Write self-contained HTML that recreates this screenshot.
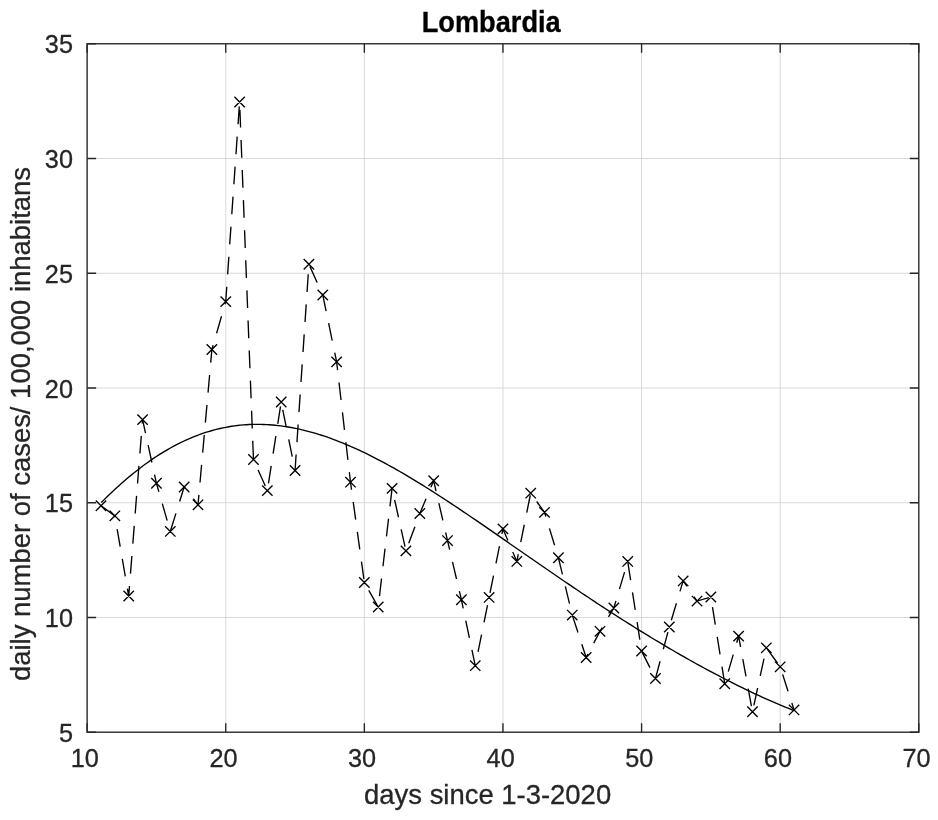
<!DOCTYPE html>
<html><head><meta charset="utf-8"><title>Lombardia</title>
<style>html,body{margin:0;padding:0;background:#fff;overflow:hidden}svg{display:block;will-change:transform}</style>
</head><body>
<svg width="938" height="820" viewBox="0 0 938 820">
<rect width="938" height="820" fill="#fff"/>
<path d="M225.74 43.77V732.20M364.35 43.77V732.20M502.96 43.77V732.20M641.58 43.77V732.20M780.19 43.77V732.20M87.13 617.46H918.80M87.13 502.72H918.80M87.13 387.99H918.80M87.13 273.25H918.80M87.13 158.51H918.80" stroke="#d9d9d9" stroke-width="1" fill="none"/>
<polyline points="101.30,502.53 104.20,499.63 107.10,496.78 109.99,493.99 112.89,491.24 115.79,488.54 118.69,485.90 121.59,483.31 124.48,480.77 127.38,478.29 130.28,475.86 133.18,473.49 136.07,471.17 138.97,468.91 141.87,466.70 144.77,464.55 147.67,462.45 150.56,460.41 153.46,458.43 156.36,456.51 159.26,454.64 162.16,452.83 165.05,451.07 167.95,449.37 170.85,447.73 173.75,446.15 176.65,444.62 179.54,443.15 182.44,441.74 185.34,440.39 188.24,439.09 191.14,437.85 194.03,436.66 196.93,435.53 199.83,434.46 202.73,433.44 205.62,432.48 208.52,431.58 211.42,430.73 214.32,429.93 217.22,429.19 220.11,428.50 223.01,427.87 225.91,427.29 228.81,426.77 231.71,426.29 234.60,425.87 237.50,425.51 240.40,425.19 243.30,424.92 246.20,424.71 249.09,424.54 251.99,424.43 254.89,424.36 257.79,424.35 260.68,424.38 263.58,424.46 266.48,424.59 269.38,424.76 272.28,424.98 275.17,425.25 278.07,425.56 280.97,425.92 283.87,426.32 286.77,426.76 289.66,427.25 292.56,427.78 295.46,428.35 298.36,428.96 301.26,429.61 304.15,430.30 307.05,431.03 309.95,431.81 312.85,432.61 315.75,433.46 318.64,434.34 321.54,435.26 324.44,436.22 327.34,437.21 330.23,438.23 333.13,439.29 336.03,440.38 338.93,441.51 341.83,442.66 344.72,443.85 347.62,445.07 350.52,446.31 353.42,447.59 356.32,448.90 359.21,450.23 362.11,451.59 365.01,452.98 367.91,454.39 370.81,455.83 373.70,457.30 376.60,458.78 379.50,460.30 382.40,461.83 385.29,463.39 388.19,464.97 391.09,466.57 393.99,468.19 396.89,469.84 399.78,471.50 402.68,473.18 405.58,474.88 408.48,476.59 411.38,478.32 414.27,480.07 417.17,481.84 420.07,483.62 422.97,485.42 425.87,487.23 428.76,489.05 431.66,490.89 434.56,492.74 437.46,494.60 440.36,496.47 443.25,498.36 446.15,500.25 449.05,502.16 451.95,504.08 454.84,506.00 457.74,507.93 460.64,509.87 463.54,511.82 466.44,513.78 469.33,515.74 472.23,517.71 475.13,519.68 478.03,521.66 480.93,523.65 483.82,525.64 486.72,527.63 489.62,529.63 492.52,531.63 495.42,533.64 498.31,535.64 501.21,537.65 504.11,539.66 507.01,541.67 509.91,543.69 512.80,545.70 515.70,547.71 518.60,549.73 521.50,551.74 524.39,553.75 527.29,555.76 530.19,557.78 533.09,559.78 535.99,561.79 538.88,563.80 541.78,565.80 544.68,567.80 547.58,569.80 550.48,571.79 553.37,573.78 556.27,575.77 559.17,577.75 562.07,579.73 564.97,581.70 567.86,583.67 570.76,585.64 573.66,587.60 576.56,589.55 579.45,591.50 582.35,593.44 585.25,595.38 588.15,597.31 591.05,599.24 593.94,601.16 596.84,603.07 599.74,604.97 602.64,606.87 605.54,608.76 608.43,610.65 611.33,612.52 614.23,614.39 617.13,616.25 620.03,618.11 622.92,619.95 625.82,621.79 628.72,623.62 631.62,625.44 634.52,627.26 637.41,629.06 640.31,630.86 643.21,632.65 646.11,634.43 649.00,636.20 651.90,637.96 654.80,639.71 657.70,641.45 660.60,643.18 663.49,644.91 666.39,646.62 669.29,648.33 672.19,650.02 675.09,651.71 677.98,653.38 680.88,655.05 683.78,656.70 686.68,658.35 689.58,659.98 692.47,661.60 695.37,663.22 698.27,664.82 701.17,666.41 704.06,667.99 706.96,669.56 709.86,671.12 712.76,672.66 715.66,674.20 718.55,675.72 721.45,677.23 724.35,678.73 727.25,680.22 730.15,681.69 733.04,683.16 735.94,684.60 738.84,686.04 741.74,687.46 744.64,688.87 747.53,690.27 750.43,691.65 753.33,693.02 756.23,694.37 759.13,695.71 762.02,697.04 764.92,698.35 767.82,699.64 770.72,700.92 773.61,702.18 776.51,703.42 779.41,704.65 782.31,705.86 785.21,707.06 788.10,708.23 791.00,709.39 793.90,710.53" fill="none" stroke="#000" stroke-width="1.35"/>
<polyline points="100.99,505.76 114.85,515.84 128.71,596.04 142.57,419.61 156.44,483.30 170.30,531.42 184.16,486.97 198.02,504.84 211.88,349.49 225.74,301.60 239.60,102.03 253.46,459.47 267.33,490.64 281.19,401.96 295.05,470.47 308.91,264.25 322.77,294.96 336.63,361.86 350.49,482.16 364.35,582.52 378.21,607.04 392.08,488.35 405.94,550.90 419.80,513.55 433.66,480.78 447.52,540.59 461.38,599.70 475.24,665.69 489.10,597.41 502.96,528.90 516.83,561.44 530.69,493.16 544.55,512.40 558.41,557.77 572.27,615.06 586.13,657.45 599.99,631.32 613.85,607.95 627.72,561.44 641.58,651.03 655.44,678.53 669.30,626.97 683.16,580.91 697.02,601.08 710.88,596.95 724.74,683.80 738.60,636.14 752.47,711.75 766.33,647.82 780.19,666.84 794.05,709.92" fill="none" stroke="#000" stroke-width="1.35" stroke-dasharray="17.7 12.405" stroke-dashoffset="-0.63"/>
<path d="M95.79 500.56L106.19 510.96M95.79 510.96L106.19 500.56M109.65 510.64L120.05 521.04M109.65 521.04L120.05 510.64M123.51 590.84L133.91 601.24M123.51 601.24L133.91 590.84M137.37 414.41L147.77 424.81M137.37 424.81L147.77 414.41M151.24 478.10L161.64 488.50M151.24 488.50L161.64 478.10M165.10 526.22L175.50 536.62M165.10 536.62L175.50 526.22M178.96 481.77L189.36 492.17M178.96 492.17L189.36 481.77M192.82 499.64L203.22 510.04M192.82 510.04L203.22 499.64M206.68 344.29L217.08 354.69M206.68 354.69L217.08 344.29M220.54 296.40L230.94 306.80M220.54 306.80L230.94 296.40M234.40 96.83L244.80 107.23M234.40 107.23L244.80 96.83M248.26 454.27L258.66 464.67M248.26 464.67L258.66 454.27M262.13 485.44L272.53 495.84M262.13 495.84L272.53 485.44M275.99 396.76L286.39 407.16M275.99 407.16L286.39 396.76M289.85 465.27L300.25 475.67M289.85 475.67L300.25 465.27M303.71 259.05L314.11 269.45M303.71 269.45L314.11 259.05M317.57 289.76L327.97 300.16M317.57 300.16L327.97 289.76M331.43 356.66L341.83 367.06M331.43 367.06L341.83 356.66M345.29 476.96L355.69 487.36M345.29 487.36L355.69 476.96M359.15 577.32L369.55 587.72M359.15 587.72L369.55 577.32M373.01 601.84L383.41 612.24M373.01 612.24L383.41 601.84M386.88 483.15L397.28 493.55M386.88 493.55L397.28 483.15M400.74 545.70L411.14 556.10M400.74 556.10L411.14 545.70M414.60 508.35L425.00 518.75M414.60 518.75L425.00 508.35M428.46 475.58L438.86 485.98M428.46 485.98L438.86 475.58M442.32 535.39L452.72 545.79M442.32 545.79L452.72 535.39M456.18 594.50L466.58 604.90M456.18 604.90L466.58 594.50M470.04 660.49L480.44 670.89M470.04 670.89L480.44 660.49M483.90 592.21L494.30 602.61M483.90 602.61L494.30 592.21M497.76 523.70L508.16 534.10M497.76 534.10L508.16 523.70M511.63 556.24L522.03 566.64M511.63 566.64L522.03 556.24M525.49 487.96L535.89 498.36M525.49 498.36L535.89 487.96M539.35 507.20L549.75 517.60M539.35 517.60L549.75 507.20M553.21 552.57L563.61 562.97M553.21 562.97L563.61 552.57M567.07 609.86L577.47 620.26M567.07 620.26L577.47 609.86M580.93 652.25L591.33 662.65M580.93 662.65L591.33 652.25M594.79 626.12L605.19 636.52M594.79 636.52L605.19 626.12M608.65 602.75L619.05 613.15M608.65 613.15L619.05 602.75M622.52 556.24L632.92 566.64M622.52 566.64L632.92 556.24M636.38 645.83L646.78 656.23M636.38 656.23L646.78 645.83M650.24 673.33L660.64 683.73M650.24 683.73L660.64 673.33M664.10 621.77L674.50 632.17M664.10 632.17L674.50 621.77M677.96 575.71L688.36 586.11M677.96 586.11L688.36 575.71M691.82 595.88L702.22 606.28M691.82 606.28L702.22 595.88M705.68 591.75L716.08 602.15M705.68 602.15L716.08 591.75M719.54 678.60L729.94 689.00M719.54 689.00L729.94 678.60M733.40 630.94L743.80 641.34M733.40 641.34L743.80 630.94M747.27 706.55L757.67 716.95M747.27 716.95L757.67 706.55M761.13 642.62L771.53 653.02M761.13 653.02L771.53 642.62M774.99 661.64L785.39 672.04M774.99 672.04L785.39 661.64M788.85 704.72L799.25 715.12M788.85 715.12L799.25 704.72" stroke="#000" stroke-width="1.35" fill="none"/>
<path d="M87.13 732.20v-9.0M87.13 43.77v9.0M225.74 732.20v-9.0M225.74 43.77v9.0M364.35 732.20v-9.0M364.35 43.77v9.0M502.96 732.20v-9.0M502.96 43.77v9.0M641.58 732.20v-9.0M641.58 43.77v9.0M780.19 732.20v-9.0M780.19 43.77v9.0M918.80 732.20v-9.0M918.80 43.77v9.0M87.13 732.20h9.0M918.80 732.20h-9.0M87.13 617.46h9.0M918.80 617.46h-9.0M87.13 502.72h9.0M918.80 502.72h-9.0M87.13 387.99h9.0M918.80 387.99h-9.0M87.13 273.25h9.0M918.80 273.25h-9.0M87.13 158.51h9.0M918.80 158.51h-9.0M87.13 43.77h9.0M918.80 43.77h-9.0" stroke="#262626" stroke-width="1.37" fill="none"/>
<rect x="87.13" y="43.77" width="831.67" height="688.4300000000001" fill="none" stroke="#262626" stroke-width="1.37"/>
<text transform="translate(84.83 767.40) scale(1 1.035)" font-family="'Liberation Sans', Arial, Helvetica, sans-serif" font-size="25.3" fill="#262626" stroke="#262626" stroke-width="0.3" text-anchor="middle">10</text>
<text transform="translate(223.44 767.40) scale(1 1.035)" font-family="'Liberation Sans', Arial, Helvetica, sans-serif" font-size="25.3" fill="#262626" stroke="#262626" stroke-width="0.3" text-anchor="middle">20</text>
<text transform="translate(362.05 767.40) scale(1 1.035)" font-family="'Liberation Sans', Arial, Helvetica, sans-serif" font-size="25.3" fill="#262626" stroke="#262626" stroke-width="0.3" text-anchor="middle">30</text>
<text transform="translate(500.66 767.40) scale(1 1.035)" font-family="'Liberation Sans', Arial, Helvetica, sans-serif" font-size="25.3" fill="#262626" stroke="#262626" stroke-width="0.3" text-anchor="middle">40</text>
<text transform="translate(639.28 767.40) scale(1 1.035)" font-family="'Liberation Sans', Arial, Helvetica, sans-serif" font-size="25.3" fill="#262626" stroke="#262626" stroke-width="0.3" text-anchor="middle">50</text>
<text transform="translate(777.89 767.40) scale(1 1.035)" font-family="'Liberation Sans', Arial, Helvetica, sans-serif" font-size="25.3" fill="#262626" stroke="#262626" stroke-width="0.3" text-anchor="middle">60</text>
<text transform="translate(916.50 767.40) scale(1 1.035)" font-family="'Liberation Sans', Arial, Helvetica, sans-serif" font-size="25.3" fill="#262626" stroke="#262626" stroke-width="0.3" text-anchor="middle">70</text>
<text transform="translate(73.00 741.80) scale(1 1.035)" font-family="'Liberation Sans', Arial, Helvetica, sans-serif" font-size="25.3" fill="#262626" stroke="#262626" stroke-width="0.3" text-anchor="end">5</text>
<text transform="translate(73.00 627.06) scale(1 1.035)" font-family="'Liberation Sans', Arial, Helvetica, sans-serif" font-size="25.3" fill="#262626" stroke="#262626" stroke-width="0.3" text-anchor="end">10</text>
<text transform="translate(73.00 512.32) scale(1 1.035)" font-family="'Liberation Sans', Arial, Helvetica, sans-serif" font-size="25.3" fill="#262626" stroke="#262626" stroke-width="0.3" text-anchor="end">15</text>
<text transform="translate(73.00 397.59) scale(1 1.035)" font-family="'Liberation Sans', Arial, Helvetica, sans-serif" font-size="25.3" fill="#262626" stroke="#262626" stroke-width="0.3" text-anchor="end">20</text>
<text transform="translate(73.00 282.85) scale(1 1.035)" font-family="'Liberation Sans', Arial, Helvetica, sans-serif" font-size="25.3" fill="#262626" stroke="#262626" stroke-width="0.3" text-anchor="end">25</text>
<text transform="translate(73.00 168.11) scale(1 1.035)" font-family="'Liberation Sans', Arial, Helvetica, sans-serif" font-size="25.3" fill="#262626" stroke="#262626" stroke-width="0.3" text-anchor="end">30</text>
<text transform="translate(73.00 53.37) scale(1 1.035)" font-family="'Liberation Sans', Arial, Helvetica, sans-serif" font-size="25.3" fill="#262626" stroke="#262626" stroke-width="0.3" text-anchor="end">35</text>
<text transform="translate(487.60 803.90) scale(1 1.0)" font-family="'Liberation Sans', Arial, Helvetica, sans-serif" font-size="27.45" fill="#262626" stroke="#262626" stroke-width="0.3" text-anchor="middle">days since 1-3-2020</text>
<text transform="translate(30.2 424) rotate(-90)" font-family="'Liberation Sans', Arial, Helvetica, sans-serif" font-size="27.45" fill="#262626" stroke="#262626" stroke-width="0.3" text-anchor="middle">daily number of cases/ 100,000 inhabitans</text>
<text transform="translate(491.20 31.90) scale(1 1.057)" font-family="'Liberation Sans', Arial, Helvetica, sans-serif" font-size="27.2" fill="#000" stroke="#000" stroke-width="0.3" text-anchor="middle" font-weight="bold">Lombardia</text>
</svg>
</body></html>
